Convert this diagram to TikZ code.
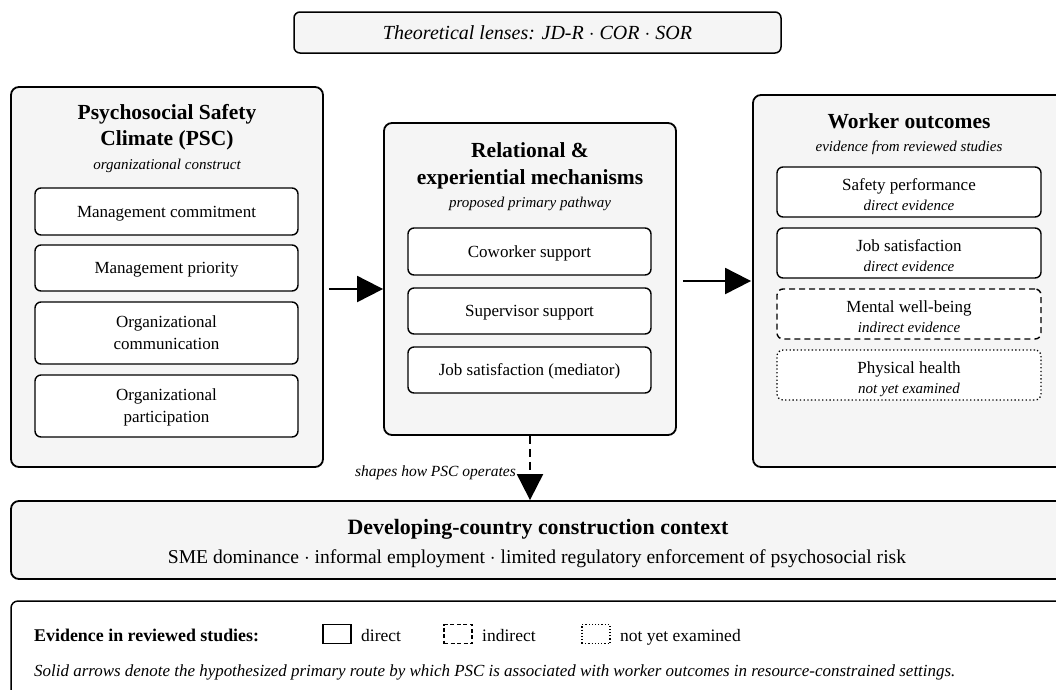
\documentclass[tikz,border=0pt]{standalone}
\usepackage{fontspec}
\setmainfont{Liberation Serif}
\usetikzlibrary{arrows.meta,calc}
\definecolor{bggray}{HTML}{F5F5F5}
\tikzset{
  outerbox/.style={draw, line width=1.8pt, rounded corners=8pt, fill=bggray, inner sep=0pt},
  innerbox/.style={draw, line width=1.4pt, rounded corners=6pt, fill=white, align=center, inner sep=0pt, text depth=0pt, font=\fontsize{17}{22}\selectfont},
  evbox/.style={innerbox, text height=37pt, font=\fontsize{17}{20}\selectfont},
  titletext/.style={align=center, inner sep=0pt, text depth=0pt, font=\bfseries\fontsize{21.5}{26.5}\selectfont},
  subtext/.style={inner sep=0pt, text depth=0pt, font=\itshape\fontsize{15}{18}\selectfont},
  mainarrow/.style={line width=2pt, -{Triangle[length=26pt,width=26pt]}},
  dasharrow/.style={line width=2pt, dash pattern=on 8pt off 5pt, -{Triangle[length=26pt,width=26pt]}},
  legsq/.style={draw, line width=1.5pt, fill=white, minimum width=28pt, minimum height=19pt, inner sep=0pt},
  legtext/.style={inner sep=0pt, anchor=west, text depth=0pt, font=\fontsize{17.5}{20}\selectfont},
}
\newcommand{\evi}[1]{\\{\itshape\fontsize{15}{20}\selectfont #1}}
\begin{document}
\begin{tikzpicture}[x=1pt,y=-1pt]
\useasboundingbox (0,0) rectangle (1056,689);
\clip (0,0) rectangle (1056,689);

% top lens box
\node[outerbox, line width=1.5pt, rounded corners=6pt, minimum width=487pt, minimum height=41pt, text depth=0pt,
  font=\itshape\fontsize{20}{24}\selectfont] (lens) at (537.5,32.5) {Theoretical lenses: JD-R $\cdot$ COR $\cdot$ SOR};

% PSC container
\node[outerbox, minimum width=312pt, minimum height=380pt] (psc) at (167,277) {};
\node[titletext] (psct) at (167,125) {Psychosocial Safety\\Climate (PSC)};
\node[subtext] (pscs) at (167,164) {organizational construct};
\node[innerbox, minimum width=263pt, minimum height=47pt] (p1) at (166.5,211.5) {Management commitment};
\node[innerbox, minimum width=263pt, minimum height=46pt] (p2) at (166.5,268) {Management priority};
\node[innerbox, minimum width=263pt, minimum height=62pt] (p3) at (166.5,333) {Organizational\\communication};
\node[innerbox, minimum width=263pt, minimum height=62pt] (p4) at (166.5,406) {Organizational\\participation};

% mechanisms container
\node[outerbox, minimum width=292pt, minimum height=312pt] (mech) at (530,279) {};
\node[titletext] (mecht) at (530,163.5) {Relational \&\\experiential mechanisms};
\node[subtext] (mechs) at (530,202) {proposed primary pathway};
\node[innerbox, minimum width=243pt, minimum height=47pt] (m1) at (529.5,251.5) {Coworker support};
\node[innerbox, minimum width=243pt, minimum height=46pt] (m2) at (529.5,311) {Supervisor support};
\node[innerbox, minimum width=243pt, minimum height=46pt] (m3) at (529.5,370) {Job satisfaction (mediator)};

% outcomes container
\node[outerbox, minimum width=312pt, minimum height=372pt] (out) at (909,281) {};
\node[titletext] (outt) at (909,121) {Worker outcomes};
\node[subtext] (outs) at (909,146) {evidence from reviewed studies};
\node[evbox, minimum width=264pt, minimum height=50pt] (o1) at (909,192) {Safety performance\evi{direct evidence}};
\node[evbox, minimum width=264pt, minimum height=50pt] (o2) at (909,253) {Job satisfaction\evi{direct evidence}};
\node[evbox, dash pattern=on 6pt off 4pt, minimum width=264pt, minimum height=50pt] (o3) at (909,314) {Mental well-being\evi{indirect evidence}};
\node[evbox, line width=1.3pt, dash pattern=on 1.3pt off 2.4pt, minimum width=264pt, minimum height=50pt] (o4) at (909,375) {Physical health\evi{not yet examined}};

% context box
\node[outerbox, minimum width=1054pt, minimum height=78pt] (ctx) at (538,540) {};
\node[titletext, font=\bfseries\fontsize{21.9}{26}\selectfont] (ctxt) at (538,527) {Developing-country construction context};
\node[inner sep=0pt, text depth=0pt, font=\fontsize{19.6}{22}\selectfont] (ctxs) at (537,557) {SME dominance $\cdot$ informal employment $\cdot$ limited regulatory enforcement of psychosocial risk};

% arrows
\draw[mainarrow] ([xshift=5pt,yshift=-12pt]psc.east) -- ([yshift=-10pt]mech.west);
\draw[mainarrow] ([xshift=6pt,yshift=-2pt]mech.east) -- ([xshift=-1pt]out.west);
\draw[dasharrow] (mech.south) -- (mech.south |- ctx.north);
\node[subtext, font=\itshape\fontsize{15.5}{18}\selectfont, anchor=east] (shp) at (516,471) {shapes how PSC operates};

% legend
\node[draw, line width=1.5pt, rounded corners=7pt, fill=white, minimum width=1059pt, minimum height=110pt, inner sep=0pt] (leg) at (540.5,656) {};
\node[legtext, font=\bfseries\fontsize{17.9}{20}\selectfont] (legt) at (34,635) {Evidence in reviewed studies:};
\node[legsq] (lsq1) at (337,634) {};
\node[legtext] (lt1) at (361,635) {direct};
\node[legsq, dash pattern=on 4pt off 2.5pt] (lsq2) at (458,634) {};
\node[legtext] (lt2) at (482,635) {indirect};
\node[legsq, line width=1.2pt, dash pattern=on 1.2pt off 2pt] (lsq3) at (596,634) {};
\node[legtext] (lt3) at (620,635) {not yet examined};
\node[legtext, font=\itshape\fontsize{16.95}{20}\selectfont] (foot) at (34,671) {Solid arrows denote the hypothesized primary route by which PSC is associated with worker outcomes in resource-constrained settings.};
\end{tikzpicture}
\end{document}
